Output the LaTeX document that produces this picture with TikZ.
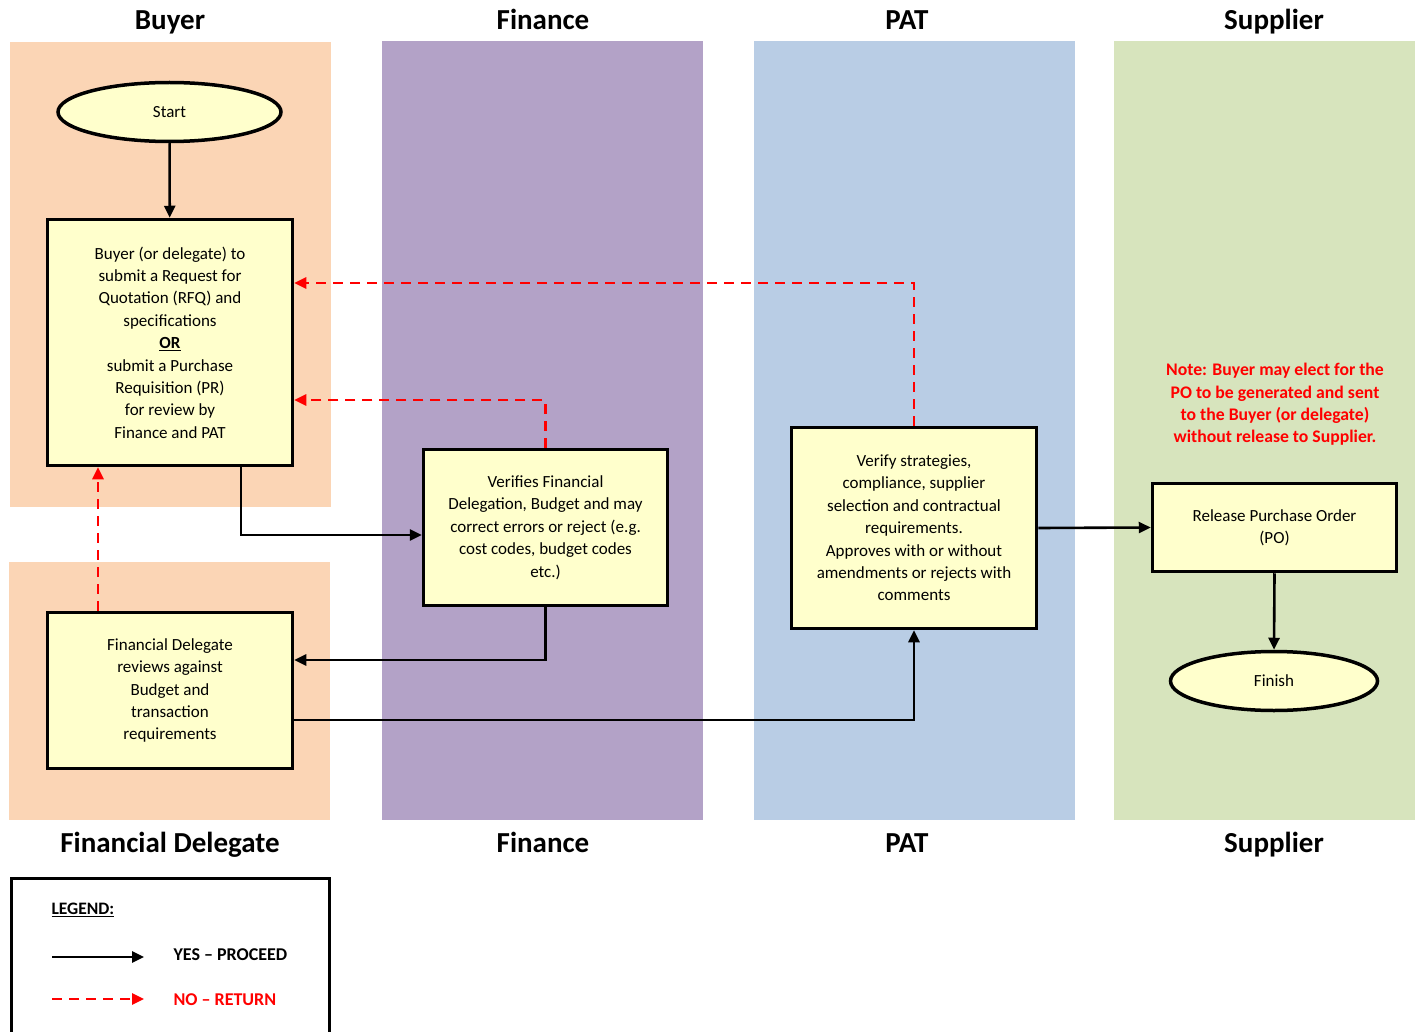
\documentclass[tikz,border=0pt]{standalone}
\usepackage{fontspec}
\setmainfont{Carlito}
\usetikzlibrary{arrows.meta,shapes.geometric}
\definecolor{peach}{HTML}{FBD5B5}
\definecolor{lilac}{HTML}{B3A2C7}
\definecolor{paleblue}{HTML}{B9CDE5}
\definecolor{palegreen}{HTML}{D7E4BD}
\definecolor{boxfill}{HTML}{FFFFCC}
\definecolor{redline}{HTML}{FF0000}
\begin{document}
\begin{tikzpicture}[x=1pt,y=-1pt,
  proc/.style={draw=black, line width=3.5pt, fill=boxfill, align=center, inner sep=0pt,
    font=\fontsize{17}{22.4}\selectfont},
  term/.style={ellipse, draw=black, line width=3.5pt, fill=boxfill, inner sep=0pt,
    font=\fontsize{17}{22.4}\selectfont},
  yes/.style={draw=black, line width=2.6pt, -{Triangle[length=12pt,width=11pt]}},
  no/.style={draw=redline, line width=2.6pt, dash pattern=on 10pt off 7pt, -{Triangle[length=12pt,width=11pt]}},
  hdr/.style={anchor=base, font=\fontsize{29}{32}\selectfont\bfseries}]
\useasboundingbox (0,0) rectangle (1415,1032);
\fill[white] (0,0) rectangle (1415,1032);
% lanes
\fill[peach] (10,42) rectangle (331,507);
\fill[peach] (9,562) rectangle (330,820);
\fill[lilac] (382,41) rectangle (703,820);
\fill[paleblue] (754,41) rectangle (1075,820);
\fill[palegreen] (1114,41) rectangle (1415,820);
% headers
\node[hdr] (hbuyer) at (170,30) {Buyer};
\node[hdr] (hfin) at (543,30) {Finance};
\node[hdr] (hpat) at (907,30) {PAT};
\node[hdr] (hsup) at (1274,30) {Supplier};
\node[hdr] (hfd) at (170,852) {Financial Delegate};
\node[hdr] (hfin2) at (543,852) {Finance};
\node[hdr] (hpat2) at (907,852) {PAT};
\node[hdr] (hsup2) at (1274,852) {Supplier};
% nodes
\node[term, minimum width=223pt, minimum height=59pt] (start) at (169.5,112) {Start};
\node[proc, minimum width=245pt, minimum height=246pt] (buyer) at (170,342.5)
  {Buyer (or delegate) to\\ submit a Request for\\ Quotation (RFQ) and\\ specifications\\
   \textbf{\underline{OR}}\\ submit a Purchase\\ Requisition (PR)\\ for review by\\ Finance and PAT};
\node[proc, minimum width=244pt, minimum height=156pt] (fin) at (545.5,527.5)
  {Verifies Financial\\ Delegation, Budget and may\\ correct errors or reject (e.g.\\ cost codes, budget codes\\ etc.)};
\node[proc, minimum width=245pt, minimum height=201pt] (pat) at (914,528)
  {Verify strategies,\\ compliance, supplier\\ selection and contractual\\ requirements.\\ Approves with or without\\ amendments or rejects with\\ comments};
\node[proc, minimum width=244pt, minimum height=88pt] (po) at (1274.5,527.5)
  {Release Purchase Order\\ (PO)};
\node[term, minimum width=207pt, minimum height=59pt] (finish) at (1274,681) {Finish};
\node[proc, minimum width=245pt, minimum height=156pt] (fd) at (170,690.5)
  {Financial Delegate\\ reviews against\\ Budget and\\ transaction\\ requirements};
\node[text=redline, align=center, font=\fontsize{17.7}{22.4}\selectfont\bfseries] (note) at (1275,404.5)
  {Note: Buyer may elect for the\\ PO to be generated and sent\\ to the Buyer (or delegate)\\ without release to Supplier.};
% connectors
\draw[yes] (start) -- (buyer);
\draw[yes] ([xshift=71pt]buyer.south) |- ([yshift=-7.5pt]fin.west);
\draw[yes] (fin.south) |- ([yshift=30.5pt]fd.east);
\draw[yes] ([yshift=-29.5pt]fd.east) -| (pat.south);
\draw[yes] (pat.east) -- (po.west);
\draw[yes] (po.south) -- (finish.north);
\draw[no] (pat.north) |- ([yshift=59.5pt]buyer.east);
\draw[no] (fin.north) |- ([yshift=-57.5pt]buyer.east);
\draw[no] ([xshift=-72pt]fd.north) -- ([xshift=-72pt]buyer.south);
% legend
\draw[line width=3.5pt] (11.5,1045) -- (11.5,878.5) -- (329.5,878.5) -- (329.5,1045);
\node[anchor=west, font=\fontsize{17.5}{20}\selectfont\bfseries] (leg) at (48,910) {\underline{LEGEND:}};
\coordinate (ya) at (52,957);
\coordinate (yb) at (144,957);
\coordinate (na) at (52,999);
\coordinate (nb) at (144,999);
\draw[yes] (ya) -- (yb);
\draw[no] (na) -- (nb);
\node[anchor=west, font=\fontsize{18}{20}\selectfont\bfseries] (yeslbl) at (170,955) {YES -- PROCEED};
\node[anchor=west, text=redline, font=\fontsize{18}{20}\selectfont\bfseries] (nolbl) at (170,1000) {NO -- RETURN};
\end{tikzpicture}
\end{document}
